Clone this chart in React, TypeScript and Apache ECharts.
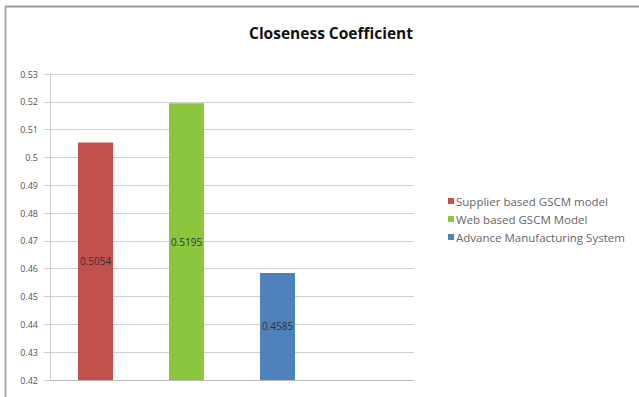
import React, { useEffect, useRef } from "react";
import * as echarts from "echarts";

const title = "Closeness Coefficient";
const categories = ["Supplier based GSCM model", "Web based GSCM Model", "Advance Manufacturing System", ""];
const seriesNames = ["Supplier based GSCM model", "Web based GSCM Model", "Advance Manufacturing System"];
const seriesValues = [0.5054, 0.5195, 0.4585];
const seriesColors = ["#C4504E", "#8CC63F", "#4F81BD"];
const yMin = 0.42;
const yMax = 0.53;
const yStep = 0.01;

export default function App() {
  const ref = useRef<HTMLDivElement>(null);
  useEffect(() => {
    if (!ref.current) return;
    const chart = echarts.init(ref.current, null, { renderer: "svg" });
    const series = seriesNames.map((name, i) => ({
      name,
      type: "bar",
      stack: "all",
      barWidth: 35,
      data: categories.map((_, j) => (j === i ? seriesValues[i] : "-")),
      itemStyle: { color: seriesColors[i] },
      label: {
        show: true,
        position: "inside",
        color: "#333",
        fontSize: 10,
        fontFamily: "Open Sans",
        formatter: (p: any) => String(p.value),
      },
    }));
    chart.setOption({
      animation: false,
      backgroundColor: "#fff",
      title: {
        text: title,
        left: 326,
        textAlign: "center",
        top: 20,
        textStyle: { fontFamily: "Open Sans", fontWeight: "bold", fontSize: 15.5, color: "#111" },
      },
      legend: {
        orient: "vertical",
        left: 443,
        top: 188,
        itemWidth: 6,
        itemHeight: 6,
        itemGap: 2,
        icon: "rect",
        data: seriesNames,
        textStyle: { fontFamily: "Open Sans", fontSize: 11.5, lineHeight: 16, color: "#666", padding: [0, 0, 0, -3] },
      },
      grid: { left: 50, right: 639 - 414, top: 74, bottom: 397 - 380 },
      xAxis: {
        type: "category",
        data: categories,
        axisLine: { lineStyle: { color: "#bbb" } },
        axisTick: { show: false },
        axisLabel: { show: false },
      },
      yAxis: {
        type: "value",
        min: yMin,
        max: yMax,
        interval: yStep,
        startValue: yMin,
        axisLine: { show: true, lineStyle: { color: "#ccc" } },
        axisTick: { show: true, length: 6, lineStyle: { color: "#ccc" } },
        splitLine: { lineStyle: { color: "#cfcfcf", width: 1.2 } },
        axisLabel: {
          fontFamily: "Open Sans",
          fontSize: 9,
          color: "#555",
          margin: 12,
          formatter: (v: number) => String(parseFloat(v.toFixed(2))),
        },
      },
      graphic: [
        { type: "line", shape: { x1: 5, y1: 6.5, x2: 639, y2: 6.5 }, style: { stroke: "#999", lineWidth: 2 } },
        { type: "line", shape: { x1: 5.5, y1: 6, x2: 5.5, y2: 397 }, style: { stroke: "#aaa", lineWidth: 2 } },
      ],
      series,
    });
    return () => chart.dispose();
  }, []);
  return (
    <div
      ref={ref}
      style={{ position: "fixed", left: 0, top: 0, width: 639, height: 397, background: "#fff" }}
    />
  );
}
